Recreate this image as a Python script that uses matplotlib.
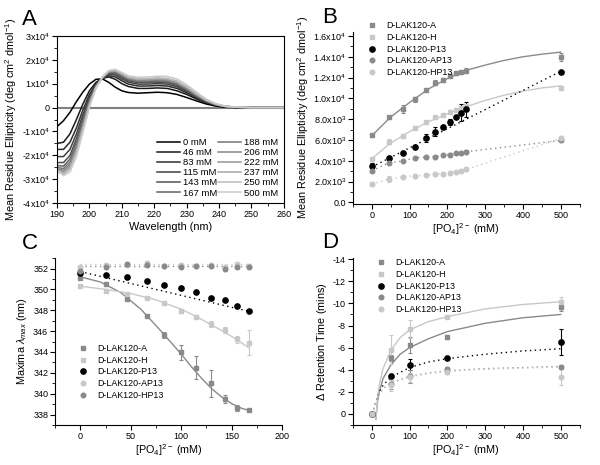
import matplotlib
matplotlib.use("Agg")
import matplotlib.pyplot as plt
from matplotlib.ticker import MultipleLocator

# ---------------- Panel A: CD spectra ----------------
wavelength = [190, 192, 194, 196, 198, 200, 202, 204, 206, 208, 210, 212, 215,
              218, 221, 224, 227, 230, 233, 236, 239, 242, 246, 250, 260]
conc_labels = ["0 mM", "46 mM", "83 mM", "115 mM", "143 mM", "167 mM",
               "188 mM", "206 mM", "222 mM", "237 mM", "250 mM", "500 mM"]
# mean residue ellipticity, units of 1e4
spectra = [
    [-0.80, -0.55, -0.20, 0.25, 0.65, 0.98, 1.18, 1.20, 1.05, 0.85, 0.70, 0.63, 0.60,
     0.62, 0.64, 0.62, 0.55, 0.42, 0.28, 0.15, 0.06, 0.01, 0.0, 0.0, 0.0],
    [-1.50, -1.45, -1.10, -0.50, 0.15, 0.70, 1.05, 1.22, 1.28, 1.18, 1.00, 0.88, 0.80,
     0.80, 0.82, 0.80, 0.70, 0.55, 0.36, 0.20, 0.09, 0.03, 0.0, 0.0, 0.0],
    [-1.75, -1.75, -1.45, -0.85, -0.10, 0.55, 0.98, 1.22, 1.33, 1.28, 1.12, 0.98, 0.90,
     0.90, 0.92, 0.90, 0.80, 0.62, 0.40, 0.22, 0.10, 0.03, 0.0, 0.0, 0.0],
    [-2.05, -2.05, -1.75, -1.10, -0.30, 0.45, 0.95, 1.23, 1.38, 1.36, 1.20, 1.06, 0.98,
     0.98, 1.00, 0.98, 0.87, 0.68, 0.44, 0.24, 0.11, 0.04, 0.01, 0.0, 0.0],
    [-2.30, -2.30, -2.00, -1.30, -0.45, 0.35, 0.92, 1.24, 1.42, 1.42, 1.27, 1.12, 1.04,
     1.04, 1.06, 1.04, 0.93, 0.72, 0.47, 0.26, 0.12, 0.04, 0.01, 0.0, 0.0],
    [-2.42, -2.45, -2.15, -1.45, -0.55, 0.30, 0.90, 1.25, 1.45, 1.46, 1.31, 1.16, 1.08,
     1.08, 1.10, 1.08, 0.97, 0.75, 0.49, 0.27, 0.12, 0.04, 0.01, 0.0, 0.0],
    [-2.50, -2.55, -2.28, -1.58, -0.65, 0.25, 0.88, 1.25, 1.47, 1.49, 1.34, 1.19, 1.11,
     1.11, 1.13, 1.11, 1.00, 0.78, 0.51, 0.28, 0.13, 0.05, 0.01, 0.0, 0.0],
    [-2.55, -2.62, -2.38, -1.68, -0.72, 0.20, 0.86, 1.26, 1.49, 1.51, 1.37, 1.22, 1.14,
     1.14, 1.16, 1.14, 1.03, 0.80, 0.53, 0.29, 0.13, 0.05, 0.01, 0.0, 0.0],
    [-2.60, -2.68, -2.45, -1.76, -0.80, 0.15, 0.84, 1.26, 1.51, 1.53, 1.39, 1.24, 1.16,
     1.17, 1.19, 1.17, 1.06, 0.83, 0.55, 0.30, 0.14, 0.05, 0.01, 0.0, 0.0],
    [-2.65, -2.74, -2.52, -1.84, -0.86, 0.12, 0.83, 1.27, 1.53, 1.55, 1.41, 1.26, 1.19,
     1.20, 1.22, 1.20, 1.09, 0.86, 0.57, 0.31, 0.14, 0.05, 0.01, 0.0, 0.0],
    [-2.68, -2.80, -2.58, -1.90, -0.92, 0.08, 0.82, 1.27, 1.54, 1.57, 1.43, 1.28, 1.21,
     1.22, 1.24, 1.22, 1.12, 0.88, 0.59, 0.32, 0.15, 0.05, 0.01, 0.0, 0.0],
    [-2.60, -2.85, -2.70, -2.05, -1.05, 0.00, 0.80, 1.27, 1.55, 1.60, 1.47, 1.33, 1.27,
     1.28, 1.31, 1.30, 1.20, 0.96, 0.65, 0.36, 0.17, 0.06, 0.02, 0.0, 0.0],
]
spectra_grays = ["#000000", "#1a1a1a", "#2e2e2e", "#404040", "#525252", "#636363",
                 "#747474", "#858585", "#969696", "#a8a8a8", "#bababa", "#cccccc"]

# ---------------- Panel B: ellipticity vs phosphate ----------------
b_conc = [0, 46, 83, 115, 143, 167, 188, 206, 222, 237, 250, 500]
b_A = [6440, 8180, 8950, 9910, 10800, 11500, 11770, 12150, 12400, 12570, 12650, 13950]
b_A_err = [150, 150, 400, 250, 150, 250, 150, 150, 150, 200, 250, 400]
b_H = [4140, 5830, 6380, 7180, 7700, 8180, 8400, 8700, 8900, 9100, 9250, 11030]
b_H_err = [150, 250, 150, 150, 150, 150, 150, 200, 200, 200, 200, 200]
b_P13 = [3490, 4230, 4710, 5350, 6160, 6800, 7280, 7760, 8180, 8620, 8950, 12510]
b_P13_err = [300, 200, 150, 150, 400, 450, 150, 300, 150, 800, 700, 150]
b_AP13 = [3040, 3810, 3970, 4300, 4330, 4370, 4550, 4600, 4710, 4750, 4870, 5950]
b_AP13_err = [150, 150, 100, 100, 100, 100, 100, 100, 100, 100, 150, 150]
b_HP13 = [1750, 2250, 2460, 2560, 2600, 2720, 2750, 2850, 2900, 3040, 3170, 6150]
b_HP13_err = [200, 250, 100, 100, 100, 100, 100, 100, 100, 100, 150, 250]
b_fitx = [0, 50, 100, 150, 200, 250, 300, 350, 400, 450, 500]
b_A_fit = [6400, 8200, 9600, 10900, 11900, 12700, 13200, 13650, 14000, 14250, 14450]
b_H_fit = [4200, 5700, 6800, 7750, 8500, 9200, 9800, 10300, 10700, 11000, 11200]
b_P13_fitx = [0, 500]
b_P13_fit = [3400, 12600]

# ---------------- Panel C: emission maxima ----------------
c_conc = [0, 25, 46, 66, 83, 100, 115, 130, 143, 155, 167]
c_A = [351.1, 350.55, 349.05, 347.45, 345.6, 343.95, 342.5, 341.0, 339.5, 338.65, 338.45]
c_A_err = [0.15, 0.1, 0.1, 0.1, 0.3, 0.7, 1.1, 1.3, 0.4, 0.3, 0.1]
c_H = [350.3, 349.85, 349.6, 349.2, 348.7, 347.9, 347.4, 346.7, 346.1, 345.2, 344.9]
c_H_err = [0.1, 0.1, 0.1, 0.1, 0.2, 0.2, 0.1, 0.3, 0.3, 0.3, 1.2]
c_P13 = [351.6, 351.35, 351.2, 350.8, 350.45, 350.1, 349.75, 349.15, 348.95, 348.4, 347.9]
c_AP13 = [352.1, 352.3, 352.3, 352.5, 352.2, 352.35, 352.2, 352.3, 352.15, 352.4, 352.2]
c_HP13 = [351.8, 352.15, 352.4, 352.35, 352.2, 352.15, 352.2, 352.25, 352.0, 352.15, 352.15]
c_small_err = [0.1, 0.1, 0.1, 0.1, 0.1, 0.1, 0.1, 0.1, 0.1, 0.1, 0.1]
c_A_fitx = [0, 20, 40, 60, 80, 90, 100, 110, 120, 130, 140, 150, 160, 167]
c_A_fit = [351.2, 350.7, 349.7, 348.1, 346.0, 344.9, 343.8, 342.6, 341.5, 340.5,
           339.7, 339.05, 338.6, 338.4]
c_H_fitx = [0, 25, 50, 75, 100, 115, 130, 143, 155, 167]
c_H_fit = [350.3, 350.0, 349.6, 349.0, 348.1, 347.4, 346.6, 345.9, 345.2, 344.4]
c_lin_x = [0, 167]
c_P13_fit = [351.7, 347.9]
c_AP13_fit = [352.45, 352.45]
c_HP13_fit = [352.2, 352.2]

# ---------------- Panel D: retention time ----------------
d_conc = [0, 50, 100, 200, 500]
d_A = [0, -5.05, -6.25, -6.94, -9.64]
d_A_err = [0, 0.3, 0.7, 0.2, 0.3]
d_H = [0, -5.8, -7.69, -8.74, -10.09]
d_H_err = [0, 1.3, 0.8, 0.1, 0.5]
d_P13 = [0, -3.42, -4.45, -5.05, -6.49]
d_P13_err = [0, 0.2, 0.5, 0.1, 1.2]
d_AP13 = [0, -2.67, -3.42, -4.09, -4.24]
d_AP13_err = [0, 0.4, 0.6, 0.2, 0.2]
d_HP13 = [0, -2.58, -3.33, -3.78, -3.33]
d_HP13_err = [0, 0.5, 0.4, 0.2, 0.7]
d_fitx = [11, 15, 20, 30, 50, 75, 100, 150, 200, 300, 400, 500]
d_A_fit = [0.5, -1.0, -2.0, -3.2, -4.4, -5.4, -6.0, -6.8, -7.45, -8.2, -8.7, -9.0]
d_H_fit = [0.5, -1.3, -2.6, -4.1, -5.7, -6.9, -7.6, -8.35, -8.8, -9.5, -9.9, -10.15]
d_dot_x = [3, 10, 20, 30, 50, 100, 150, 200, 300, 400, 500]
d_P13_fit = [0.0, -1.0, -2.0, -2.6, -3.3, -4.2, -4.7, -5.0, -5.4, -5.7, -5.9]
d_AP13_fit = [0.0, -1.0, -1.8, -2.3, -2.8, -3.4, -3.7, -3.9, -4.1, -4.2, -4.3]
d_HP13_fit = [0.0, -1.0, -1.8, -2.3, -2.8, -3.35, -3.65, -3.85, -4.05, -4.15, -4.25]

DARK = "#8a8a8a"
LIGHT = "#c8c8c8"
TICK_FS = 6.5
LABEL_FS = 7.8
LEG_FS = 6.4
SQ_MS = 3.0
CI_MS = 3.3
DOTTED = (0, (1, 2.5))

plt.rcParams["font.family"] = ["Liberation Sans", "DejaVu Sans"]
plt.rcParams["mathtext.fontset"] = "custom"
plt.rcParams["mathtext.rm"] = "Liberation Sans"
plt.rcParams["mathtext.it"] = "Liberation Sans:italic"
plt.rcParams["axes.unicode_minus"] = False

fig = plt.figure(figsize=(6.0, 4.65), dpi=100)


def style_axes(ax, box=False):
    for side in ("top", "right"):
        ax.spines[side].set_visible(box)
    for s in ax.spines.values():
        s.set_linewidth(0.8)
    ax.tick_params(which="major", direction="out", length=3.5, width=0.8,
                   labelsize=TICK_FS, pad=1.5, top=False, right=False)
    ax.tick_params(which="minor", direction="out", length=2, width=0.6,
                   top=False, right=False)


def sci(v, exp):
    return f"{v}x10$^{{{exp}}}$"


ekw = dict(elinewidth=0.8, capsize=1.6, capthick=0.8, ls="none")


def series(ax, x, y, err, marker, col, label):
    ms = SQ_MS if marker == "s" else CI_MS
    if col == "black":
        ms = 3.8
    return ax.errorbar(x, y, yerr=err, fmt=marker, ms=ms, color=col, mec=col,
                       label=label, **ekw)


def legend(ax, **kw):
    h, l = ax.get_legend_handles_labels()
    ax.legend([c[0] for c in h], l, frameon=False, fontsize=LEG_FS,
              handletextpad=0.6, labelspacing=0.3, borderaxespad=0.2, **kw)


# ---- A ----
axA = fig.add_axes([0.095, 0.563, 0.378, 0.36])
style_axes(axA, box=True)
axA.axhline(0, color="#808080", lw=1.5, zorder=1)
for lab, vals, col in zip(conc_labels, spectra, spectra_grays):
    axA.plot(wavelength, [v * 1e4 for v in vals], color=col, lw=1.1, label=lab)
axA.set_xlim(190, 260)
axA.set_ylim(-4e4, 3e4)
axA.xaxis.set_major_locator(MultipleLocator(10))
axA.xaxis.set_minor_locator(MultipleLocator(5))
axA.set_yticks([-4e4, -3e4, -2e4, -1e4, 0, 1e4, 2e4, 3e4])
axA.yaxis.set_minor_locator(MultipleLocator(5e3))
axA.set_yticklabels([sci(v, 4) for v in (-4, -3, -2, -1)] + ["0"] +
                    [sci(v, 4) for v in (1, 2, 3)])
axA.set_xlabel("Wavelength (nm)", fontsize=LABEL_FS, labelpad=2)
axA.set_ylabel("Mean Residue Ellipticity (deg cm$^2$ dmol$^{-1}$)",
               fontsize=LABEL_FS, labelpad=2)
axA.legend(ncol=2, loc="lower right", frameon=False, fontsize=6.8,
           handlelength=2.4, handletextpad=0.3, columnspacing=0.1,
           labelspacing=0.12, borderaxespad=0.2)

# ---- B ----
axB = fig.add_axes([0.588, 0.561, 0.378, 0.371])
style_axes(axB)
axB.plot(b_fitx, b_A_fit, color=DARK, lw=1.0)
axB.plot(b_fitx, b_H_fit, color=LIGHT, lw=1.0)
axB.plot(b_P13_fitx, b_P13_fit, color="black", lw=1.0, ls=DOTTED)
axB.plot(b_conc, b_AP13, color=DARK, lw=1.0, ls=DOTTED)
axB.plot(b_conc, b_HP13, color=LIGHT, lw=1.0, ls=DOTTED)
series(axB, b_conc, b_A, b_A_err, "s", DARK, "D-LAK120-A")
series(axB, b_conc, b_H, b_H_err, "s", LIGHT, "D-LAK120-H")
series(axB, b_conc, b_P13, b_P13_err, "o", "black", "D-LAK120-P13")
series(axB, b_conc, b_AP13, b_AP13_err, "o", DARK, "D-LAK120-AP13")
series(axB, b_conc, b_HP13, b_HP13_err, "o", LIGHT, "D-LAK120-HP13")
axB.set_xlim(-50, 550)
axB.set_ylim(-170, 16420)
axB.xaxis.set_major_locator(MultipleLocator(100))
axB.xaxis.set_minor_locator(MultipleLocator(50))
axB.set_yticks([0, 2000, 4000, 6000, 8000, 10000, 12000, 14000, 16000])
axB.set_yticklabels(["0.0"] + [sci(v, 3) for v in ("2.0", "4.0", "6.0", "8.0")] +
                    [sci(v, 4) for v in ("1.0", "1.2", "1.4", "1.6")])
axB.yaxis.set_minor_locator(MultipleLocator(1000))
axB.set_xlabel("[PO$_4$]$^{2-}$ (mM)", fontsize=LABEL_FS, labelpad=1)
axB.set_ylabel("Mean Residue Ellipticity (deg cm$^2$ dmol$^{-1}$)",
               fontsize=LABEL_FS, labelpad=2)
legend(axB, loc="upper left", bbox_to_anchor=(0.02, 1.09))

# ---- C ----
axC = fig.add_axes([0.092, 0.086, 0.378, 0.359])
style_axes(axC)
axC.plot(c_A_fitx, c_A_fit, color=DARK, lw=1.0)
axC.plot(c_H_fitx, c_H_fit, color=LIGHT, lw=1.0)
axC.plot(c_lin_x, c_P13_fit, color="black", lw=1.0, ls=DOTTED)
axC.plot(c_lin_x, c_AP13_fit, color=LIGHT, lw=1.0, ls=DOTTED)
axC.plot(c_lin_x, c_HP13_fit, color=DARK, lw=1.0, ls=DOTTED)
series(axC, c_conc, c_A, c_A_err, "s", DARK, "D-LAK120-A")
series(axC, c_conc, c_H, c_H_err, "s", LIGHT, "D-LAK120-H")
series(axC, c_conc, c_P13, c_small_err, "o", "black", "D-LAK120-P13")
series(axC, c_conc, c_AP13, c_small_err, "o", LIGHT, "D-LAK120-AP13")
series(axC, c_conc, c_HP13, c_small_err, "o", DARK, "D-LAK120-HP13")
axC.set_xlim(-25, 200)
axC.set_ylim(337, 353)
axC.xaxis.set_major_locator(MultipleLocator(50))
axC.xaxis.set_minor_locator(MultipleLocator(25))
axC.set_yticks(list(range(338, 353, 2)))
axC.yaxis.set_minor_locator(MultipleLocator(1))
axC.set_xlabel("[PO$_4$]$^{2-}$ (mM)", fontsize=LABEL_FS, labelpad=1)
axC.set_ylabel("Maxima $\\lambda_{max}$ (nm)", fontsize=LABEL_FS, labelpad=3)
legend(axC, loc="lower left", bbox_to_anchor=(0.06, 0.12))

# ---- D ----
axD = fig.add_axes([0.588, 0.086, 0.378, 0.359])
style_axes(axD)
axD.plot(d_fitx, d_A_fit, color=DARK, lw=1.0)
axD.plot(d_fitx, d_H_fit, color=LIGHT, lw=1.0)
axD.plot(d_dot_x, d_P13_fit, color="black", lw=1.0, ls=DOTTED)
axD.plot(d_dot_x, d_AP13_fit, color=DARK, lw=1.0, ls=DOTTED)
axD.plot(d_dot_x, d_HP13_fit, color=LIGHT, lw=1.0, ls=DOTTED)
series(axD, d_conc, d_A, d_A_err, "s", DARK, "D-LAK120-A")
series(axD, d_conc, d_H, d_H_err, "s", LIGHT, "D-LAK120-H")
series(axD, d_conc, d_P13, d_P13_err, "o", "black", "D-LAK120-P13")
series(axD, d_conc, d_AP13, d_AP13_err, "o", DARK, "D-LAK120-AP13")
series(axD, d_conc, d_HP13, d_HP13_err, "o", LIGHT, "D-LAK120-HP13")
axD.set_xlim(-50, 550)
axD.set_ylim(1.0, -14.1)
axD.xaxis.set_major_locator(MultipleLocator(100))
axD.xaxis.set_minor_locator(MultipleLocator(50))
axD.set_yticks(list(range(0, -15, -2)))
axD.yaxis.set_minor_locator(MultipleLocator(1))
axD.set_xlabel("[PO$_4$]$^{2-}$ (mM)", fontsize=LABEL_FS, labelpad=1)
axD.set_ylabel("$\\Delta$ Retention Time (mins)", fontsize=LABEL_FS, labelpad=3)
legend(axD, loc="upper left", bbox_to_anchor=(0.06, 1.03))

# panel letters
for letter, x, y in (("A", 0.037, 0.958), ("B", 0.537, 0.962),
                     ("C", 0.037, 0.477), ("D", 0.537, 0.479)):
    fig.text(x, y, letter, fontsize=16, ha="left", va="center")

fig.savefig("out.png", dpi=100)
